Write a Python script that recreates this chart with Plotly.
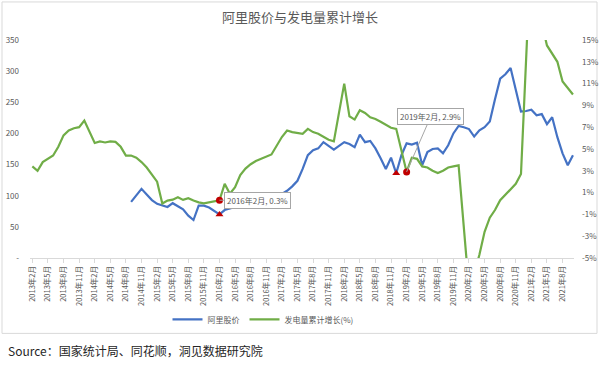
import plotly.graph_objects as go

# ---------------- data ----------------
years = list(range(2013, 2022))
categories = []
for y in years:
    for m in range(1, 13):
        if (y == 2013 and m < 2) or (y == 2021 and m > 10):
            continue
        categories.append(f"{y}年{m}月")

# 阿里股价 (left axis), starts 2014年9月
alibaba_price = [None] * 19 + [
    90, 100, 111, 102, 93, 87, 85, 82, 88, 83, 78, 68, 61,            # 2014-09 .. 2015-09
    84, 84, 81, 76, 70, 77, 79, 82, 86, 95, 100, 103, 100, 94, 92,    # 2015-10 .. 2016-12
    100, 103, 108, 115, 124, 143, 165, 173, 176, 186, 180, 174,       # 2017-01 .. 2017-12
    180, 186, 183, 178, 198, 186, 188, 176, 160, 143, 161, 136,       # 2018-01 .. 2018-12
    165, 184, 182, 185, 149, 170, 175, 176, 168, 181, 200, 212,       # 2019-01 .. 2019-12
    210, 207, 195, 205, 210, 219, 255, 288, 295, 305, 270, 235,       # 2020-01 .. 2020-12
    236, 238, 229, 231, 215, 226, 194, 168, 149, 165,                 # 2021-01 .. 2021-10
]

# 发电量累计增长(%) (right axis); January not published -> None
power_growth = [
    3.4, 3.0, 3.8, 4.1, 4.4, 5.2, 6.25, 6.7, 6.9, 7.0, 7.6,           # 2013-02 .. 2013-12
    None, 5.55, 5.7, 5.6, 5.7, 5.65, 5.2, 4.4, 4.4, 4.2, 3.8, 3.3,    # 2014
    None, 2.0, 0.0, 0.27, 0.35, 0.57, 0.33, 0.48, 0.27, 0.1, 0.02, 0.1,  # 2015
    None, 0.3, 1.8, 0.9, 1.5, 2.6, 3.2, 3.6, 3.9, 4.1, 4.3, 4.5,      # 2016
    None, 6.1, 6.7, 6.55, 6.45, 6.4, 6.85, 6.55, 6.4, 6.1, 5.85, 5.7, # 2017
    None, 11.0, 8.0, 7.7, 8.55, 8.3, 7.9, 7.75, 7.5, 7.2, 6.95, 6.85, # 2018
    None, 2.9, 4.2, 4.1, 3.4, 3.3, 3.0, 2.8, 3.0, 3.3, 3.4, 3.5,      # 2019
    None, -7.8, -6.5, -4.7, -2.6, -1.3, -0.6, 0.3, 0.8, 1.3, 1.8, 2.7, # 2020
    None, 24.0, 19.0, 16.5, 14.5, 13.8, 13.0, 11.2, 10.6, 10.0,       # 2021-01 .. 2021-10
]

price_ticks = [0, 50, 100, 150, 200, 250, 300, 350]
price_ticktext = ["-"] + [str(v) for v in price_ticks[1:]]
growth_ticks = [-5, -3, -1, 1, 3, 5, 7, 9, 11, 13, 15]
growth_ticktext = [f"{v}%" for v in growth_ticks]

growth_marked = ["2016年2月", "2019年2月"]
price_marked = ["2016年2月", "2018年12月"]

title_text = "阿里股价与发电量累计增长"
source_text = "Source：国家统计局、同花顺，洞见数据研究院"

# ---------------- figure ----------------
FONT = "Noto Sans CJK SC"
GRAY = "#595959"
BLUE = "#4472C4"
GREEN = "#70AD47"
RED = "#C00000"

fig = go.Figure()
fig.add_trace(go.Scatter(
    x=categories, y=alibaba_price, name="阿里股价", mode="lines",
    line=dict(color=BLUE, width=2.2), yaxis="y"))
fig.add_trace(go.Scatter(
    x=categories, y=power_growth, name="发电量累计增长(%)", mode="lines",
    line=dict(color=GREEN, width=2.2), yaxis="y2", connectgaps=True))

gi = [categories.index(c) for c in growth_marked]
pi = [categories.index(c) for c in price_marked]
fig.add_trace(go.Scatter(
    x=growth_marked, y=[power_growth[i] for i in gi], mode="markers",
    marker=dict(symbol="circle", size=7, color=RED), yaxis="y2",
    showlegend=False, hoverinfo="skip"))
fig.add_trace(go.Scatter(
    x=price_marked, y=[alibaba_price[i] for i in pi], mode="markers",
    marker=dict(symbol="triangle-up", size=7, color=RED), yaxis="y",
    showlegend=False, hoverinfo="skip"))

annots = []
offsets = [(38, 0), (24, -55)]
for c, i, (ax, ay) in zip(growth_marked, gi, offsets):
    annots.append(dict(
        x=c, y=power_growth[i], xref="x", yref="y2",
        text=f"{c}, {power_growth[i]}%", showarrow=True, arrowhead=0,
        arrowwidth=1, arrowcolor="#a6a6a6", ax=ax, ay=ay,
        font=dict(family=FONT, size=8, color=GRAY),
        bgcolor="white", bordercolor="#a6a6a6", borderwidth=1, borderpad=2))

W, H = 600, 365
L, R, T, B = 30, 26, 40, 107.3
pw, ph = W - L - R, H - T - B

def px_x(x):
    return (x - L) / pw

def px_y(y):
    return (H - B - y) / ph

annots.append(dict(
    x=px_x(6), y=px_y(350), xref="paper", yref="paper", xanchor="left",
    yanchor="middle", showarrow=False, text=source_text,
    font=dict(family=FONT, size=12, color="#262626")))

fig.update_layout(
    width=W, height=H,
    margin=dict(l=L, r=R, t=T, b=B, autoexpand=False),
    paper_bgcolor="white", plot_bgcolor="white",
    font=dict(family=FONT, color=GRAY),
    title=dict(text=title_text, x=0.5, xanchor="center", y=1 - 17 / H,
               yanchor="middle", font=dict(family=FONT, size=13, color=GRAY)),
    showlegend=True,
    legend=dict(orientation="h", x=px_x(263), xanchor="center",
                y=px_y(319), yanchor="middle", font=dict(size=8, color=GRAY),
                itemwidth=30, bgcolor="rgba(0,0,0,0)"),
    xaxis=dict(type="category", categoryorder="array", categoryarray=categories,
               range=[-0.45, len(categories) - 0.8], automargin=False,
               tickmode="array", tickvals=categories[::3], ticktext=categories[::3],
               tickangle=-90, tickfont=dict(size=7.5, color=GRAY),
               ticks="outside", ticklen=4, tickcolor="#d9d9d9",
               showline=True, linecolor="#d9d9d9", linewidth=1,
               showgrid=False, zeroline=False),
    yaxis=dict(range=[0, 350], tickmode="array", tickvals=price_ticks,
               ticktext=price_ticktext, tickfont=dict(size=8, color=GRAY),
               showgrid=False, zeroline=False, showline=False,
               ticklabelstandoff=10, automargin=False),
    yaxis2=dict(range=[-5, 15], overlaying="y", side="right", tickmode="array",
                tickvals=growth_ticks, ticktext=growth_ticktext,
                tickfont=dict(size=8, color=GRAY), showgrid=False,
                zeroline=False, showline=False, ticklabelstandoff=7,
                automargin=False),
    annotations=annots,
    shapes=[dict(type="rect", xref="paper", yref="paper",
                 x0=px_x(2), x1=px_x(597), y0=px_y(333), y1=px_y(2),
                 line=dict(color="#d9d9d9", width=1), layer="below")],
)

fig.write_html("out.html")
